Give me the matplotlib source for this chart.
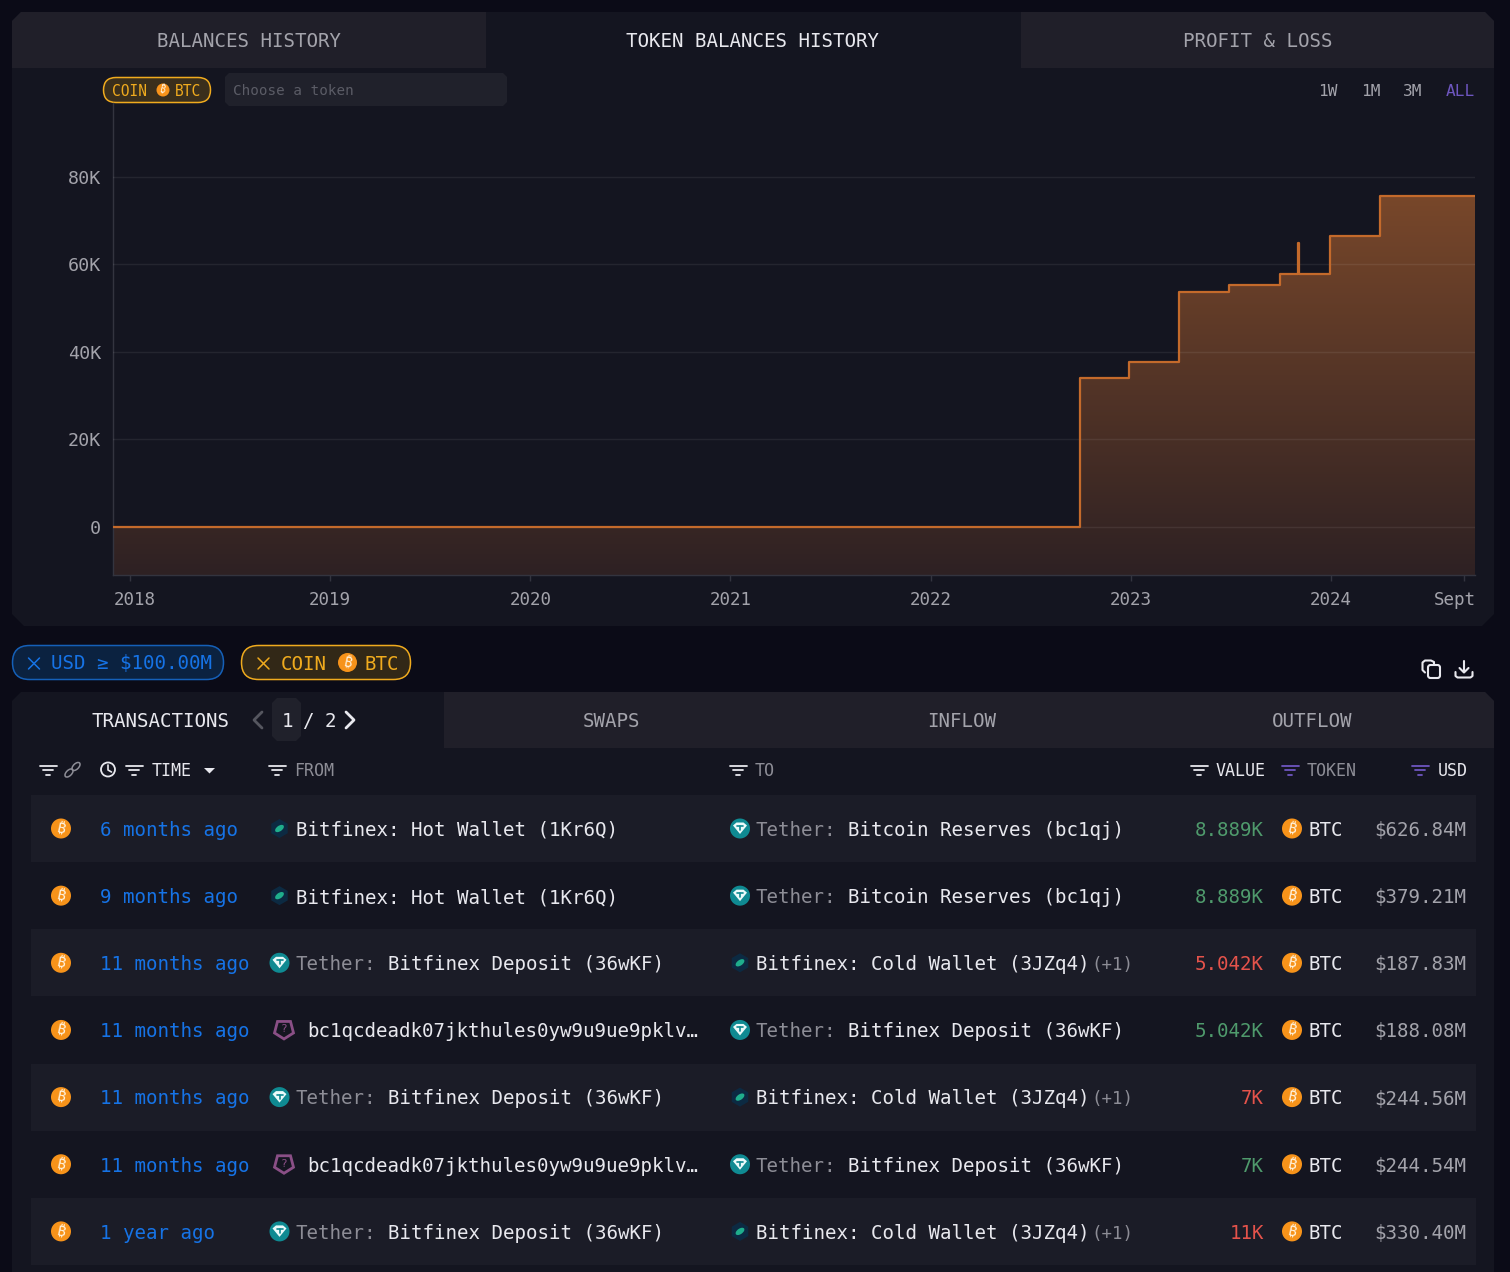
import numpy as np
import matplotlib
matplotlib.use("Agg")
import matplotlib.pyplot as plt
from matplotlib.colors import LinearSegmentedColormap
from matplotlib.patches import Circle, Ellipse, FancyBboxPatch, Polygon, Rectangle
from matplotlib.transforms import Affine2D

plt.rcParams['font.family'] = ['DejaVu Sans Mono', 'DejaVu Sans']

# balance steps, x in decimal years, y in thousands of BTC
step_x = [2017.915, 2022.745, 2022.99, 2023.24, 2023.49, 2023.745, 2023.836, 2023.84, 2023.998, 2024.247, 2024.72]
step_y = [0, 34.0, 37.6, 53.6, 55.2, 57.8, 64.8, 57.8, 66.6, 75.7, 75.7]
y_ticks = [0, 20, 40, 60, 80]
y_labels = ["0", "20K", "40K", "60K", "80K"]
x_ticks = [2018, 2019, 2020, 2021, 2022, 2023, 2024, 2024.665]
x_labels = ["2018", "2019", "2020", "2021", "2022", "2023", "2024", "Sept"]

top_tabs = ["BALANCES HISTORY", "TOKEN BALANCES HISTORY", "PROFIT & LOSS"]
table_tabs = ["TRANSACTIONS", "SWAPS", "INFLOW", "OUTFLOW"]
ranges = ["1W", "1M", "3M", "ALL"]

HOT = "Bitfinex: Hot Wallet (1Kr6Q)"
COLD = "Bitfinex: Cold Wallet (3JZq4)"
RESERVES = "Tether: Bitcoin Reserves (bc1qj)"
DEPOSIT = "Tether: Bitfinex Deposit (36wKF)"
ADDR = "bc1qcdeadk07jkthules0yw9u9ue9pklv…"

times = ["6 months ago", "9 months ago", "11 months ago", "11 months ago", "11 months ago", "11 months ago", "1 year ago"]
senders = [HOT, HOT, DEPOSIT, ADDR, DEPOSIT, ADDR, DEPOSIT]
receivers = [RESERVES, RESERVES, COLD, DEPOSIT, COLD, DEPOSIT, COLD]
values = ["8.889K", "8.889K", "5.042K", "5.042K", "7K", "7K", "11K"]
flows = ["in", "in", "out", "in", "out", "in", "out"]
usd = ["$626.84M", "$379.21M", "$187.83M", "$188.08M", "$244.56M", "$244.54M", "$330.40M"]

BG = "#0b0b17"
PANEL = "#141520"
TAB = "#201f29"
STRIPE = "#1b1c27"
WHITE = "#e8e8ee"
GREY = "#8d8d96"
LABEL = "#a3a3ab"
BLUE = "#1673e6"
ORANGE = "#f7931a"
AMBER = "#f0ab1e"
PURPLE = "#6e56c0"
TEAL = "#0f8a92"
LINE = "#c46a2b"
flow_colors = {"in": "#4f9a6c", "out": "#e5534b"}

fig = plt.figure(figsize=(15.10, 12.72), dpi=100, facecolor=BG)
ui = fig.add_axes([0, 0, 1, 1])
ui.set_xlim(0, 1510)
ui.set_ylim(1272, 0)
ui.axis("off")


def label(x, y, s, size=13.8, color=WHITE, ha="left", **kw):
    return ui.text(x, y, s, fontsize=size, color=color, ha=ha, va="baseline", **kw)


def chamfer(x0, y0, x1, y1, color, tl=0, tr=0, br=0, bl=0, z=1):
    pts = [(x0 + tl, y0), (x1 - tr, y0), (x1, y0 + tr), (x1, y1 - br),
           (x1 - br, y1), (x0 + bl, y1), (x0, y1 - bl), (x0, y0 + tl)]
    ui.add_patch(Polygon(pts, closed=True, fc=color, ec="none", zorder=z))


def pill(x0, y0, x1, y1, fc, ec, r=None):
    r = (y1 - y0) / 2 if r is None else r
    ui.add_patch(FancyBboxPatch((x0 + r, y0 + r), x1 - x0 - 2 * r, y1 - y0 - 2 * r,
                                boxstyle="round,pad=%s,rounding_size=%s" % (r, r),
                                fc=fc, ec=ec, lw=1.1, zorder=3))


def stroke(xs, ys, color, lw=1.5, z=5):
    ui.plot(xs, ys, color=color, lw=lw, solid_capstyle="round", zorder=z)


def coin(x, y, r=10):
    ui.add_patch(Circle((x, y), r, fc=ORANGE, ec="none", zorder=4))
    ui.text(x, y + 0.3, "₿", fontsize=r * 1.1, color="#fff3df", ha="center", va="center", rotation=-12,
            family=["Noto Sans", "Inter", "Roboto", "Open Sans"], fontweight="bold", zorder=5)


def tether(x, y):
    ui.add_patch(Circle((x, y), 10, fc=TEAL, ec="none", zorder=4))
    ui.add_patch(Polygon([(x - 7, y - 3), (x - 3.5, y - 6), (x + 3.5, y - 6), (x + 7, y - 3), (x, y + 5.5)],
                         closed=True, fc="#eafafa", ec="none", zorder=5))
    stroke([x - 3, x + 3], [y - 2.5, y - 2.5], TEAL, 1.2, 6)
    stroke([x, x], [y - 2.5, y + 1.5], TEAL, 1.2, 6)


def bitfinex(x, y):
    hexa = [(x + 9.5 * np.sin(a), y - 9.5 * np.cos(a)) for a in np.radians(range(0, 360, 60))]
    ui.add_patch(Polygon(hexa, closed=True, fc="#0c2a42", ec="none", zorder=4))
    ui.add_patch(Ellipse((x, y), 10, 5.5, angle=-35, fc="#1fae8c", ec="none", zorder=5))


def unknown(x, y):
    pent = [(x - 6.5, y - 8.5), (x + 6.5, y - 8.5), (x + 9.5, y + 3), (x, y + 9), (x - 9.5, y + 3)]
    ui.add_patch(Polygon(pent, closed=True, fc="none", ec="#8a4f86", lw=2, zorder=4))
    ui.text(x, y - 0.5, "?", fontsize=8, color="#8a4f86", ha="center", va="center", zorder=5)


def funnel(x, y, color=WHITE):
    stroke([x - 8.5, x + 8.5], [y - 4.5, y - 4.5], color, 1.3)
    stroke([x - 5, x + 5], [y, y], color, 1.3)
    stroke([x - 2, x + 2], [y + 4.5, y + 4.5], color, 1.3)


def cross(x, y, color):
    stroke([x - 5.5, x + 5.5], [y - 5.5, y + 5.5], color, 1.1)
    stroke([x - 5.5, x + 5.5], [y + 5.5, y - 5.5], color, 1.1)


# panels and tabs
chamfer(12, 12, 1494, 626, PANEL, tl=9, tr=9, br=12, bl=12)
chamfer(12, 12, 486, 68, TAB, tl=9, z=2)
chamfer(1021, 12, 1494, 68, TAB, tr=9, z=2)
chamfer(12, 692, 1494, 1290, PANEL, tl=9, tr=9)
chamfer(444, 692, 1494, 748, TAB, tr=9, z=2)

for cx, s, col in zip([249, 753, 1258], top_tabs, [LABEL, WHITE, LABEL]):
    label(cx, 47, s, color=col, ha="center", zorder=5)
for cx, s, col in zip([160, 612, 962, 1312], table_tabs, [WHITE, LABEL, LABEL, LABEL]):
    label(cx, 727, s, color=col, ha="center", zorder=5)

# controls above the chart
pill(103.5, 77.5, 210.5, 102.5, "#3a2f1c", AMBER)
label(112, 95.5, "COIN", size=10.5, color=AMBER, zorder=5)
coin(163, 90, 6.5)
label(175, 95.5, "BTC", size=10.5, color=AMBER, zorder=5)
chamfer(225, 73, 507, 106, "#20212b", tl=4, tr=4, br=4, bl=4, z=3)
label(233, 95, "Choose a token", size=10.3, color="#5b5c66", zorder=5)
for x, s, col in zip([1328, 1371, 1413, 1460], ranges, [LABEL, LABEL, LABEL, PURPLE]):
    label(x, 96, s, size=11.6, color=col, ha="center", zorder=5)

# filter chips
pill(12.5, 645.5, 223.5, 679.5, "#0b2240", "#1560b8")
cross(34, 663.5, BLUE)
label(51, 669.5, "USD ≥ $100.00M", color=BLUE, zorder=5)
pill(241.5, 645.5, 410.5, 679.5, "#322817", AMBER)
cross(263.5, 663.5, AMBER)
label(281, 669.5, "COIN", color=AMBER, zorder=5)
coin(347.5, 662.5, 9.5)
label(364, 669.5, "BTC", color=AMBER, zorder=5)

# copy and download icons
ui.add_patch(FancyBboxPatch((1428, 665), 12, 13, boxstyle="round,pad=0,rounding_size=2.5",
                            fc="none", ec=WHITE, lw=1.5, zorder=5))
stroke([1434, 1434, 1431, 1425, 1422.5, 1422.5, 1425], [664, 662, 660.5, 660.5, 662.5, 670, 672.5], WHITE)
stroke([1464, 1464], [661, 672], WHITE)
stroke([1459.5, 1464, 1468.5], [668, 672.5, 668], WHITE)
stroke([1455.5, 1455.5, 1457.5, 1470.5, 1472.5, 1472.5], [672, 676, 677.5, 677.5, 676, 672], WHITE)

# pager
chamfer(272, 698, 301, 741, "#20212b", tl=5, tr=5, br=5, bl=5, z=3)
stroke([262, 254, 262], [712, 720, 728], "#55565f", 2)
label(287, 727, "1", ha="center", zorder=5)
label(308, 727, "/", ha="center", zorder=5)
label(330, 727, "2", ha="center", zorder=5)
stroke([346, 354, 346], [712, 720, 728], WHITE, 2)

# table header
for x, col in zip([48, 134, 277, 738, 1199, 1290, 1420], [WHITE] * 5 + [PURPLE] * 2):
    funnel(x, 770, col)
ui.add_patch(Ellipse((69, 773), 10, 5.5, angle=-45, fc="none", ec=GREY, lw=1.1, zorder=5))
ui.add_patch(Ellipse((76, 766.5), 10, 5.5, angle=-45, fc="none", ec=GREY, lw=1.1, zorder=5))
ui.add_patch(Circle((108, 769.5), 7, fc="none", ec=WHITE, lw=1.3, zorder=5))
stroke([108, 108, 111.5], [765, 770, 772], WHITE, 1.2)
ui.add_patch(Polygon([(204, 768), (215, 768), (209.5, 773.5)], closed=True, fc=WHITE, ec="none", zorder=5))
label(152, 776, "TIME", size=12, zorder=5)
label(294, 776, "FROM", size=12, color=GREY, zorder=5)
label(755, 776, "TO", size=12, color=GREY, zorder=5)
label(1216, 776, "VALUE", size=12, zorder=5)
label(1307, 776, "TOKEN", size=12, color=GREY, zorder=5)
label(1438, 776, "USD", size=12, zorder=5)


def party(name, icon_x, text_x, y):
    # icon plus name, the "Tether:" prefix and the "(+1)" suffix are set apart
    base = y + 7.4
    if name.startswith("Tether"):
        tether(icon_x, y)
        label(text_x, base, "Tether:", color=GREY, zorder=5)
        label(text_x + 8 * 11.5, base, name[8:], zorder=5)
    elif name.startswith("Bitfinex"):
        bitfinex(icon_x, y)
        label(text_x, base, name, zorder=5)
    else:
        unknown(icon_x + 4.5, y)
        label(text_x + 12, base, name, zorder=5)
    if name == COLD:
        label(text_x + len(name) * 11.5 + 2, base, "(+1)", size=12.6, color=GREY, zorder=5)


for i in range(len(times)):
    y = 828.5 + i * 67.15
    if i % 2 == 0:
        ui.add_patch(Rectangle((31, y - 33.5), 1445, 67, fc=STRIPE, ec="none", zorder=2))
    coin(61, y)
    label(100.5, y + 7.4, times[i], color=BLUE, zorder=5)
    party(senders[i], 279.5, 295.5, y)
    party(receivers[i], 740, 756, y)
    label(1264, y + 7.4, values[i], color=flow_colors[flows[i]], ha="right", zorder=5)
    coin(1292, y)
    label(1309, y + 7.4, "BTC", zorder=5)
    label(1466, y + 7.4, usd[i], color=LABEL, ha="right", zorder=5)

# chart, pixel box 113..1475 x 103..575
ax = fig.add_axes([113 / 1510, 1 - 575 / 1272, (1475 - 113) / 1510, (575 - 103) / 1272], facecolor="none")
ax.set_xlim(step_x[0], step_x[-1])
ax.set_ylim(-11, 96.9)

fade = LinearSegmentedColormap.from_list("fade", ["#2e2123", "#78472a"])
grad = ax.imshow(np.linspace(1, 0, 256)[:, None], cmap=fade, aspect="auto", zorder=1,
                 extent=(step_x[0], step_x[-1], -11, max(step_y)))
area = ax.fill_between(step_x, step_y, -11, step="post", facecolor="none", edgecolor="none")
grad.set_clip_path(area.get_paths()[0], transform=ax.transData)
ax.set_xlim(step_x[0], step_x[-1])
ax.set_ylim(-11, 96.9)

ax.step(step_x, step_y, where="post", color=LINE, lw=1.6, zorder=4)

ax.set_axisbelow(False)
ax.grid(axis="y", color="white", alpha=0.07, lw=1)
ax.set_yticks(y_ticks, y_labels)
ax.set_xticks(x_ticks, x_labels)
ax.tick_params(axis="y", length=0, pad=8.5, labelsize=13.2, labelcolor=LABEL)
ax.tick_params(axis="x", length=4, width=1, color="#33343f", pad=7.5, labelsize=12.6, labelcolor=LABEL)
for spine in ["top", "right"]:
    ax.spines[spine].set_visible(False)
for spine in ["left", "bottom"]:
    ax.spines[spine].set_color("#33343f")
    ax.spines[spine].set_linewidth(1)

# first and last date labels are pushed inside the plot edge
xlabs = ax.get_xticklabels()
xlabs[0].set_transform(xlabs[0].get_transform() + Affine2D().translate(5, 0))
xlabs[-1].set_transform(xlabs[-1].get_transform() + Affine2D().translate(-9, 0))

fig.savefig("out.png", dpi=100, facecolor=BG)
